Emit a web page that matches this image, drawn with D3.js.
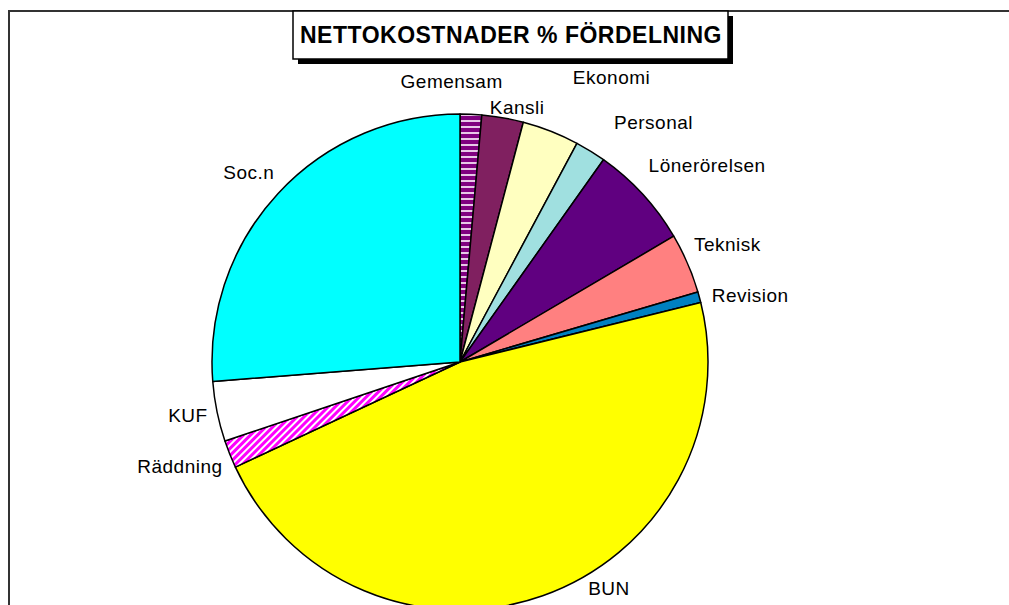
<!DOCTYPE html>
<html>
<head>
<meta charset="utf-8">
<script src="https://cdn.jsdelivr.net/npm/d3@7"></script>
<style>
  body { margin: 0; background: #fff; }
  svg { display: block; font-family: "Liberation Sans", Arial, sans-serif; }
</style>
</head>
<body>
<svg width="1009" height="605"></svg>
<script>
// slices in drawing order, clockwise from 12 o'clock
const categories = ['Gemensam', 'Kansli', 'Ekonomi', 'Personal', 'Lönerörelsen', 'Teknisk',
  'Revision', 'BUN', 'Räddning', 'KUF', 'Soc.n']
const shares = [1.4, 2.7, 3.7, 2.0, 6.7, 3.9, 0.7, 46.8, 1.8, 3.9, 26.2]
const fills = ['url(#stripeH)', '#802060', '#FFFFC0', '#A0E0E0', '#600080', '#FF8080',
  '#0080C0', '#FFFF00', 'url(#stripeD)', '#FFFFFF', '#00FFFF']
const title = 'NETTOKOSTNADER % FÖRDELNING'

// excel moves some labels around, small nudges (px)
const labelNudge = {
  'Gemensam': [-22, -14], 'Kansli': [8, 8], 'Ekonomi': [43, -36], 'Personal': [37, -12],
  'Lönerörelsen': [14, -16], 'Teknisk': [0, -11], 'Revision': [4, 3], 'BUN': [56, -25],
  'Räddning': [-1, 5], 'KUF': [0, 0], 'Soc.n': [-3, -8]
}

const svg = d3.select('svg')
const cx = 460, cy = 362, radius = 248

const defs = svg.append('defs')
const ph = defs.append('pattern').attr('id', 'stripeH')
  .attr('patternUnits', 'userSpaceOnUse').attr('width', 6).attr('height', 6)
ph.append('rect').attr('width', 6).attr('height', 6).attr('fill', '#800080')
ph.append('rect').attr('y', 4).attr('width', 6).attr('height', 2).attr('fill', '#E8C8E8')

const pd = defs.append('pattern').attr('id', 'stripeD')
  .attr('patternUnits', 'userSpaceOnUse').attr('width', 5).attr('height', 5)
  .attr('patternTransform', 'rotate(45)')
pd.append('rect').attr('width', 5).attr('height', 5).attr('fill', '#FF00FF')
pd.append('rect').attr('width', 2).attr('height', 5).attr('fill', '#FFFFFF')

// chart frame
svg.append('rect')
  .attr('x', 9).attr('y', 11).attr('width', 1100).attr('height', 700)
  .attr('fill', 'none').attr('stroke', '#333').attr('stroke-width', 2)

const pie = d3.pie().sort(null).value(d => d)
const arcs = pie(shares)
const arc = d3.arc().innerRadius(0).outerRadius(radius)

const pieG = svg.append('g').attr('transform', `translate(${cx},${cy})`)

pieG.selectAll('path')
  .data(arcs)
  .enter()
  .append('path')
  .attr('d', arc)
  .attr('fill', (d, i) => fills[i])
  .attr('stroke', '#000')
  .attr('stroke-width', 1.5)
  .attr('stroke-linejoin', 'round')

// labels: just outside the rim, box pushed away from the centre
const labels = pieG.selectAll('text')
  .data(arcs)
  .enter()
  .append('text')
  .text((d, i) => categories[i])
  .attr('font-size', 19)
  .attr('letter-spacing', 0.5)
  .attr('fill', '#000')
  .attr('text-anchor', 'middle')
  .attr('dominant-baseline', 'central')

labels.each(function (d, i) {
  const a = (d.startAngle + d.endAngle) / 2
  const w = this.getComputedTextLength()
  const h = 18
  const r = radius + 10
  const nudge = labelNudge[categories[i]]
  const x = r * Math.sin(a) + w / 2 * Math.sin(a) + nudge[0]
  const y = -r * Math.cos(a) - h / 2 * Math.cos(a) + nudge[1]
  d3.select(this).attr('x', x).attr('y', y)
})

// title box with shadow
const tg = svg.append('g')
tg.append('rect').attr('x', 298).attr('y', 16).attr('width', 435).attr('height', 48).attr('fill', '#000')
tg.append('rect').attr('x', 293).attr('y', 11).attr('width', 435).attr('height', 48)
  .attr('fill', '#fff').attr('stroke', '#000').attr('stroke-width', 1.5)
tg.append('text')
  .attr('x', 511).attr('y', 35)
  .attr('text-anchor', 'middle')
  .attr('dominant-baseline', 'central')
  .attr('font-size', 23)
  .attr('font-weight', 'bold')
  .attr('letter-spacing', 0.5)
  .text(title)
</script>
</body>
</html>
